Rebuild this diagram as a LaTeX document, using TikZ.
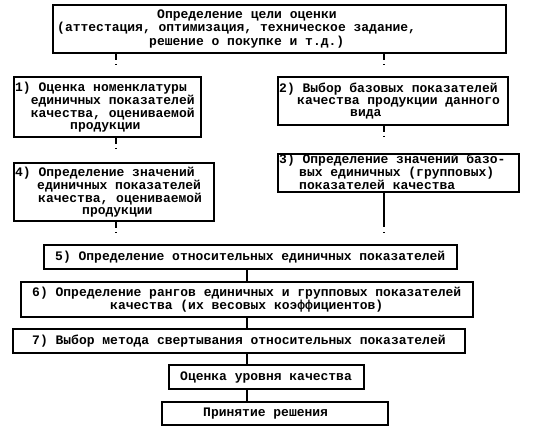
\documentclass[tikz,border=0pt]{standalone}
\usepackage{fontspec}
\setmainfont{Liberation Mono}
\newcommand\ind[1]{\hspace*{#1pt}}
\begin{document}
\begin{tikzpicture}[x=1pt,y=-1pt,
  box/.style={draw, line width=2pt, anchor=north west, inner sep=0pt},
  txt/.style={font=\fontsize{13}{11.7}\selectfont\bfseries, align=left, inner sep=0pt, anchor=west},
  conn/.style={line width=2pt},
  brk/.style={line width=2pt, dash pattern=on 6pt off 4pt on 3pt off 200pt}]
\useasboundingbox (0,0) rectangle (537,430);
% boxes
\node[box, minimum width=453pt, minimum height=48pt] (b0) at (52,4) {};
\node[box, minimum width=187pt, minimum height=60pt] (b1) at (13,76) {};
\node[box, minimum width=230pt, minimum height=48pt] (b2) at (277,76) {};
\node[box, minimum width=241pt, minimum height=38pt] (b3) at (277,153) {};
\node[box, minimum width=200pt, minimum height=58pt] (b4) at (13,162) {};
\node[box, minimum width=413pt, minimum height=24pt] (b5) at (43,244) {};
\node[box, minimum width=452pt, minimum height=35pt] (b6) at (20,281) {};
\node[box, minimum width=452pt, minimum height=24pt] (b7) at (12,328) {};
\node[box, minimum width=195pt, minimum height=24pt] (b8) at (168,364) {};
\node[box, minimum width=226pt, minimum height=23pt] (b9) at (161,401) {};
% texts
\node[txt] (t0) at ([xshift=5pt]b0.west) {\ind{100}Определение цели оценки\\(аттестация, оптимизация, техническое задание,\\\ind{92}решение о покупке и т.д.)};
\node[txt] (t1) at ([xshift=2pt]b1.west) {1) Оценка номенклатуры\\\ind{15.6}единичных показателей\\\ind{15.6}качества, оцениваемой\\\ind{55}продукции};
\node[txt] (t2) at ([xshift=2pt]b2.west) {2) Выбор базовых показателей\\\ind{18}качества продукции данного\\\ind{71}вида};
\node[txt] (t3) at ([xshift=2pt,yshift=0.8pt]b3.west) {3) Определение значений базо-\\\ind{20}вых единичных (групповых)\\\ind{20}показателей качества};
\node[txt] (t4) at ([xshift=2pt]b4.west) {4) Определение значений\\\ind{22}единичных показателей\\\ind{23}качества, оцениваемой\\\ind{67}продукции};
\node[txt] (t5) at ([xshift=12pt]b5.west) {5) Определение относительных единичных показателей};
\node[txt] (t6) at ([xshift=12pt]b6.west) {6) Определение рангов единичных и групповых показателей\\\ind{78}качества (их весовых коэффициентов)};
\node[txt] (t7) at ([xshift=20pt]b7.west) {7) Выбор метода свертывания относительных показателей};
\node[txt] (t8) at ([xshift=12pt]b8.west) {Оценка уровня качества};
\node[txt] (t9) at ([xshift=42pt]b9.west) {Принятие решения};
% connector coordinates
\coordinate (xl) at (116,0);
\coordinate (xr) at (384,0);
\coordinate (xc) at (247,0);
\coordinate (e1) at (116,65);
\coordinate (e2) at (384,65);
\coordinate (e3) at (116,149);
\coordinate (e4) at (384,137);
\coordinate (e5) at (116,233);
\coordinate (e6) at (384,233);
% broken connectors
\draw[brk] (b0.south -| xl) -- (e1);
\draw[brk] (b0.south -| xr) -- (e2);
\draw[brk] (b1.south -| xl) -- (e3);
\draw[brk] (b2.south -| xr) -- (e4);
\draw[brk] (b4.south -| xl) -- (e5);
\draw[conn, dash pattern=on 34pt off 5pt on 3pt off 200pt] (b3.south -| xr) -- (e6);
% solid connectors
\draw[conn] (b5.south -| xc) -- (b6.north -| xc);
\draw[conn] (b6.south -| xc) -- (b7.north -| xc);
\draw[conn] (b7.south -| xc) -- (b8.north -| xc);
\draw[conn] (b8.south -| xc) -- (b9.north -| xc);
\end{tikzpicture}
\end{document}
